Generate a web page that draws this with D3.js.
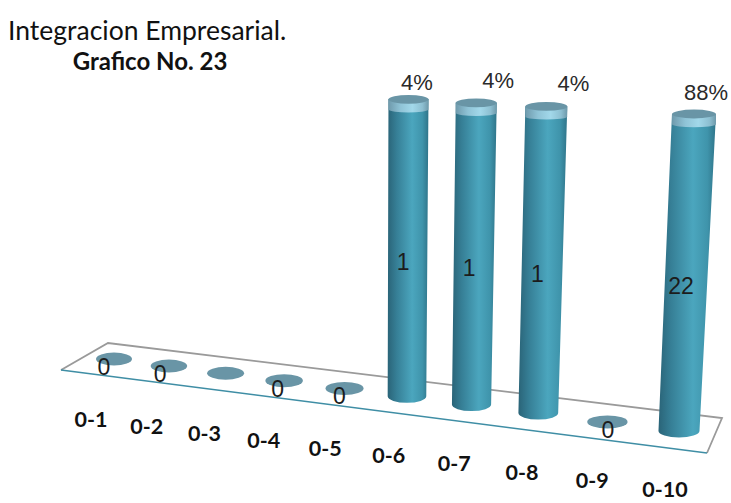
<!DOCTYPE html>
<html>
<head>
<meta charset="utf-8">
<title>Integracion Empresarial</title>
<script src="https://cdn.jsdelivr.net/npm/d3@7/dist/d3.min.js"></script>
<style>
  html, body { margin: 0; padding: 0; background: #fff; }
  svg { display: block; }
  text { font-family: Lato, "Open Sans", sans-serif; }
</style>
</head>
<body>
<svg id="chart" width="731" height="503"></svg>
<script>
// Chart content
const titleLines = ["Integracion Empresarial.", "Grafico No. 23"];
const categories = ["0-1", "0-2", "0-3", "0-4", "0-5", "0-6", "0-7", "0-8", "0-9", "0-10"];
const counts = [0, 0, 0, 0, 0, 1, 1, 1, 0, 22];
const countLabels = ["0", "0", "", "0", "0", "1", "1", "1", "0", "22"];
const percentLabels = ["", "", "", "", "", "4%", "4%", "4%", "", "88%"];
// The value axis stops at 1, so taller columns are cut off at the top of the box
const axisMax = 1;

const svg = d3.select("#chart");
const defs = svg.append("defs");

// Perspective placement along the floor of the 3D box
const slot = d3.scalePoint().domain(categories).range([0, categories.length - 1]);
const floorX = c => { const i = slot(c); return (52.34 * i + 114) / (1 - 0.01537 * i); };
const floorY = d3.scaleLinear().domain([114, 679]).range([359, 431]);
const baseRadius = d3.scaleLinear().domain([114, 679]).range([18, 20.5]);
const topX = d3.scaleLinear().domain([407, 679]).range([408.5, 694]);
const topRadius = d3.scaleLinear().domain([407, 679]).range([20, 22]);
const fullRise = d3.scaleLinear().domain([407, 679]).range([297, 317]);
const valueShare = d3.scaleLinear().domain([0, axisMax]).range([0, 1]).clamp(true);
const labelX = d3.scaleLinear().domain([114, 679]).range([91, 665]);
const labelY = d3.scaleLinear().domain([114, 679]).range([419, 489]);
const countX = d3.scaleLinear().domain([114, 679]).range([104, 681]);

function hGradient(id, stops) {
  const g = defs.append("linearGradient").attr("id", id)
    .attr("x1", 0).attr("x2", 1).attr("y1", 0).attr("y2", 0);
  stops.forEach(([o, c]) => g.append("stop").attr("offset", o).attr("stop-color", c));
}
hGradient("body", [[0, "#2a6478"], [0.22, "#367f96"], [0.6, "#4ba6be"], [0.85, "#3f94ab"], [1, "#2f7489"]]);
hGradient("band", [[0, "#6f9aac"], [0.3, "#8fc3d6"], [0.6, "#a2d8ea"], [0.85, "#8dbfd1"], [1, "#6e99aa"]]);

// Floor of the box
const corners = { fl: [61, 370], bl: [108, 343], br: [722, 418], fr: [707, 453] };
svg.append("path")
  .attr("d", d3.line()([corners.fl, corners.bl, corners.br, corners.fr]))
  .attr("fill", "#fff").attr("stroke", "#9a9a9a").attr("stroke-width", 1.8);
svg.append("path")
  .attr("d", d3.line()([corners.fl, corners.fr]))
  .attr("stroke", "#3f8ea5").attr("stroke-width", 1.6).attr("fill", "none");

const rows = categories.map((c, i) => {
  const xb = floorX(c), yb = floorY(xb);
  return { c, i, v: counts[i], xb, yb, rb: baseRadius(xb), share: valueShare(counts[i]) };
});

// Empty categories show only a flat disc on the floor
svg.selectAll("ellipse.disc").data(rows.filter(d => d.share === 0)).join("ellipse")
  .attr("class", "disc")
  .attr("cx", d => d.xb).attr("cy", d => d.yb)
  .attr("rx", d => d.rb).attr("ry", 6.5)
  .attr("fill", "#6995a6");

// Columns: shaft, pale rim and dark lid
const bandDepth = 10.5;
const columns = svg.selectAll("g.column").data(rows.filter(d => d.share > 0)).join("g").attr("class", "column");
columns.each(function (d) {
  const g = d3.select(this);
  const xt = topX(d.xb), yt = d.yb - fullRise(d.xb) * d.share, rt = topRadius(d.xb);
  d.xt = xt; d.yt = yt;
  const yc = yt + bandDepth;
  g.append("path").attr("fill", "url(#body)")
    .attr("d", `M${xt - rt},${yt} L${d.xb - d.rb},${d.yb} A${d.rb},6.5 0 0 0 ${d.xb + d.rb},${d.yb} L${xt + rt},${yt} Z`);
  g.append("path").attr("fill", "url(#band)")
    .attr("d", `M${xt - rt},${yt} L${xt - rt + 0.1},${yc} A${rt},3 0 0 0 ${xt + rt - 0.1},${yc} L${xt + rt},${yt} Z`);
  g.append("ellipse").attr("cx", xt).attr("cy", yt).attr("rx", rt).attr("ry", 4.4).attr("fill", "#6995a6");
});

// Count labels on the floor and on the shafts
svg.selectAll("text.count").data(rows.filter(d => countLabels[d.i] !== "")).join("text")
  .attr("class", "count")
  .attr("x", d => countX(d.xb))
  .attr("y", d => d.share > 0 ? (d.yb + d.yt) / 2 + 14 : d.yb + 8)
  .attr("text-anchor", "middle").attr("dominant-baseline", "central")
  .attr("font-size", 23).attr("fill", "#1c1c1c")
  .style("font-family", "'Liberation Sans', sans-serif")
  .text(d => countLabels[d.i]);

// Percentage labels above the columns
const percentNudge = { "0-6": [8.5, -17], "0-7": [22, -22], "0-8": [27, -23], "0-10": [12, -21] };
svg.selectAll("text.percent").data(rows.filter(d => percentLabels[d.i] !== "")).join("text")
  .attr("class", "percent")
  .attr("x", d => d.xt + percentNudge[d.c][0])
  .attr("y", d => d.yt + percentNudge[d.c][1])
  .attr("text-anchor", "middle").attr("dominant-baseline", "central")
  .attr("font-size", 22).attr("fill", "#2a2a2a")
  .style("font-family", "'Liberation Sans', sans-serif")
  .text(d => percentLabels[d.i]);

// Category labels below the front edge
svg.selectAll("text.cat").data(rows).join("text")
  .attr("class", "cat")
  .attr("x", d => labelX(d.xb)).attr("y", d => labelY(d.xb))
  .attr("text-anchor", "middle").attr("dominant-baseline", "central")
  .attr("font-size", 21.5).attr("font-weight", 700).attr("fill", "#111")
  .text(d => d.c);

// Two-line title
svg.append("text").attr("x", 8).attr("y", 30).attr("dominant-baseline", "central")
  .attr("font-size", 26.5).attr("fill", "#111").text(titleLines[0]);
svg.append("text").attr("x", 150).attr("y", 60).attr("text-anchor", "middle").attr("dominant-baseline", "central")
  .attr("font-size", 24).attr("font-weight", 700).attr("fill", "#111").text(titleLines[1]);
</script>
</body>
</html>
